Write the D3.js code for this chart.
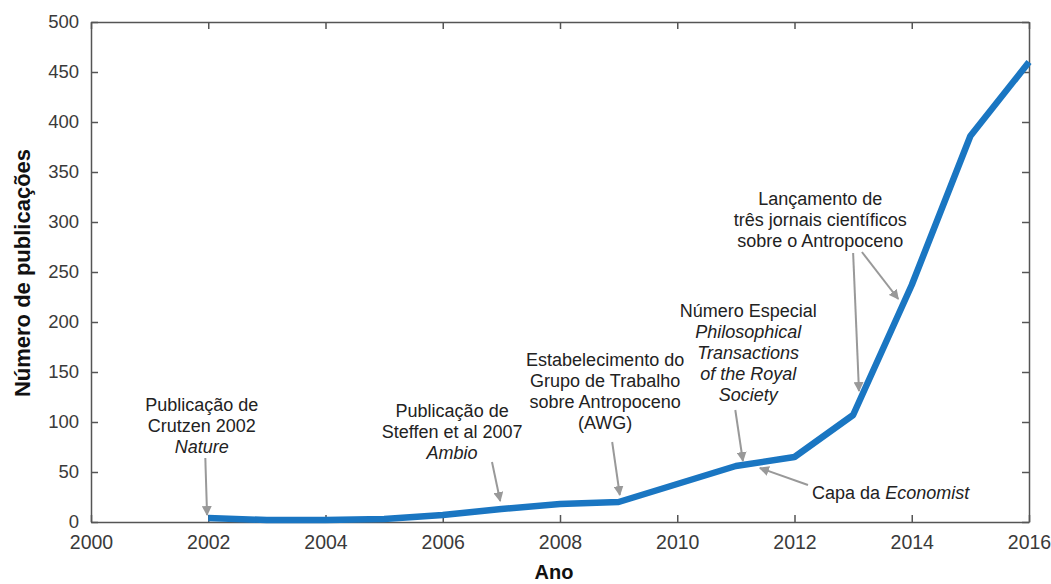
<!DOCTYPE html>
<html><head><meta charset="utf-8">
<script src="https://cdn.jsdelivr.net/npm/d3@7"></script>
<style>
body{margin:0;background:#fff;}
.yax .tick text{font-family:"Liberation Sans",Arial,sans-serif;font-size:18.5px;fill:#3a3a3a;}
.xax .tick text{font-family:"Liberation Sans",Arial,sans-serif;font-size:19.5px;fill:#3a3a3a;}
.ann{font-family:"Liberation Sans",Arial,sans-serif;font-size:18px;fill:#222;}
</style></head>
<body><svg id="c" width="1051" height="584"></svg>
<script>
const years = [2002,2003,2004,2005,2006,2007,2008,2009,2010,2011,2012,2013,2014,2015,2016];
const publications = [4,2,2,3,7,13,18,20,38,56,65,107,237,386,460];
const yTicks = [0,50,100,150,200,250,300,350,400,450,500];
const xTicks = [2000,2002,2004,2006,2008,2010,2012,2014,2016];
const annotations = [
  {lines:[["Publicação de"],["Crutzen 2002"],["Nature",true]], x:2001.89, y:111, arrows:[[2001.95,64,2001.98,7]]},
  {lines:[["Publicação de"],["Steffen et al 2007"],["Ambio",true]], x:2006.16, y:105, arrows:[[2006.84,60,2006.98,21]]},
  {lines:[["Estabelecimento do"],["Grupo de Trabalho"],["sobre Antropoceno"],["(AWG)"]], x:2008.77, y:156, arrows:[[2008.89,80,2009.02,27]]},
  {lines:[["Número Especial"],["Philosophical",true],["Transactions",true],["of the Royal",true],["Society",true]], x:2011.21, y:205, arrows:[[2010.99,112,2011.12,61]]},
  {lines:[["Lançamento de"],["três jornais científicos"],["sobre o Antropoceno"]], x:2012.44, y:317, arrows:[[2013.0,269,2013.1,131],[2013.15,270,2013.77,223]]}
];
const svg = d3.select("#c");
const m = {l:91, r:1029, t:22, b:522};
const x = d3.scaleLinear().domain([2000,2016]).range([m.l,m.r]);
const y = d3.scaleLinear().domain([0,500]).range([m.b,m.t]);

svg.append("defs").append("marker").attr("id","ah").attr("viewBox","0 0 10 10")
  .attr("refX",9).attr("refY",5).attr("markerWidth",5).attr("markerHeight",5).attr("orient","auto")
  .append("path").attr("d","M0,0L10,5L0,10z").attr("fill","#999");

const axStyle = g => { g.select(".domain").attr("stroke","#555").attr("stroke-width",1.5); g.selectAll(".tick line").attr("stroke","#555").attr("stroke-width",1.5); };
svg.append("g").attr("class","yax").attr("transform",`translate(${m.l},0)`)
  .call(d3.axisLeft(y).tickValues(yTicks).tickSizeInner(-7).tickSizeOuter(0).tickPadding(12)).call(axStyle);
svg.append("g").attr("transform",`translate(${m.r},0)`)
  .call(d3.axisRight(y).tickValues(yTicks).tickSizeInner(-7).tickSizeOuter(0).tickFormat("")).call(axStyle);
svg.append("g").attr("class","xax").attr("transform",`translate(0,${m.b})`)
  .call(d3.axisBottom(x).tickValues(xTicks).tickFormat(d3.format("d")).tickSizeInner(-7).tickSizeOuter(0).tickPadding(13)).call(axStyle);
svg.append("g").attr("transform",`translate(0,${m.t})`)
  .call(d3.axisTop(x).tickValues(xTicks).tickSizeInner(-7).tickSizeOuter(0).tickFormat("")).call(axStyle);

svg.append("path").datum(years.map((d,i)=>[d,publications[i]]))
  .attr("fill","none").attr("stroke","#1a76c2").attr("stroke-width",6.5).attr("stroke-linejoin","round")
  .attr("d", d3.line().x(d=>x(d[0])).y(d=>y(d[1])));

annotations.forEach(a=>{
  a.arrows.forEach(ar=>{
    svg.append("line").attr("x1",x(ar[0])).attr("y1",y(ar[1])).attr("x2",x(ar[2])).attr("y2",y(ar[3]))
      .attr("stroke","#999").attr("stroke-width",2).attr("marker-end","url(#ah)");
  });
  const t = svg.append("text").attr("class","ann").attr("text-anchor","middle");
  a.lines.forEach((l,i)=>{
    t.append("tspan").attr("x",x(a.x)).attr("y",y(a.y)+i*21).attr("font-style",l[1]?"italic":"normal").text(l[0]);
  });
});
// Capa da Economist
const ce = svg.append("text").attr("class","ann").attr("x",x(2012.3)).attr("y",y(23));
ce.append("tspan").text("Capa da ");
ce.append("tspan").attr("font-style","italic").text("Economist");
svg.append("line").attr("x1",x(2012.23)).attr("y1",y(37)).attr("x2",x(2011.41)).attr("y2",y(54))
  .attr("stroke","#999").attr("stroke-width",2).attr("marker-end","url(#ah)");

svg.append("text").attr("transform","translate(30,273) rotate(-90)").attr("text-anchor","middle")
  .attr("font-family","Liberation Sans, Arial, sans-serif").attr("font-weight","bold").attr("font-size",22).attr("fill","#111")
  .text("Número de publicações");
svg.append("text").attr("x",554).attr("y",579).attr("text-anchor","middle")
  .attr("font-family","Liberation Sans, Arial, sans-serif").attr("font-weight","bold").attr("font-size",20).attr("fill","#111")
  .text("Ano");
</script></body></html>
